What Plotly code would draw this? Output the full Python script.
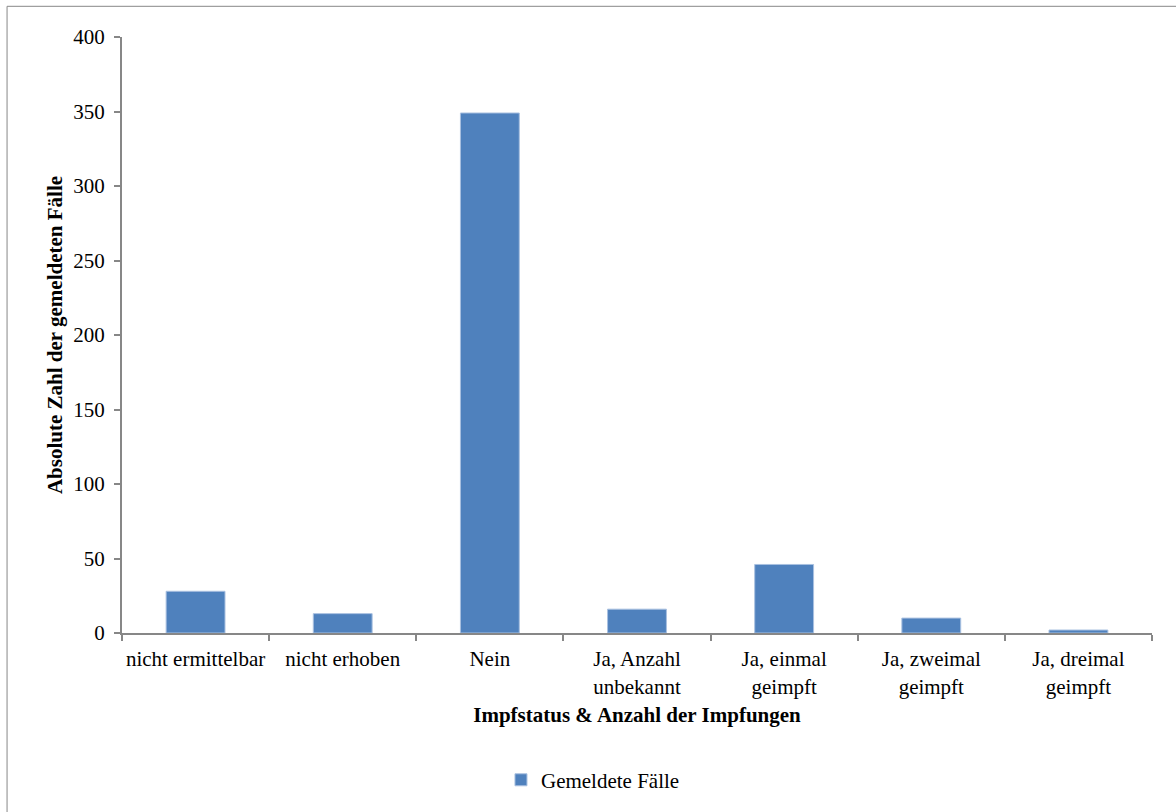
import plotly.graph_objects as go

categories = ["nicht ermittelbar", "nicht erhoben", "Nein", "Ja, Anzahl<br>unbekannt",
              "Ja, einmal<br>geimpft", "Ja, zweimal<br>geimpft", "Ja, dreimal<br>geimpft"]
values = [28, 13, 349, 16, 46, 10, 2]
series_name = "Gemeldete Fälle"
y_ticks = [0, 50, 100, 150, 200, 250, 300, 350, 400]

FONT = "Liberation Serif, Times New Roman, serif"
AXIS = "#878787"

fig = go.Figure()
fig.add_trace(go.Bar(x=categories, y=values, name=series_name,
                     marker=dict(color="#4f81bd", line=dict(color="#a9c0e0", width=1))))

fig.update_layout(
    width=1176, height=812,
    margin=dict(l=122, r=24, t=37, b=179, autoexpand=False),
    paper_bgcolor="white", plot_bgcolor="white",
    font=dict(family=FONT, size=21, color="black"),
    bargap=0.6,
    showlegend=True,
    legend=dict(orientation="h", x=0.426, xanchor="left", xref="container",
                y=0.014, yanchor="bottom", yref="container",
                font=dict(family=FONT, size=21), itemwidth=30),
    shapes=[dict(type="rect", xref="paper", yref="paper", x0=-0.1116, x1=1.1, y0=-0.35, y1=1.0515,
                 line=dict(color="#888888", width=1), layer="below")],
)
fig.update_xaxes(
    showline=True, linecolor=AXIS, linewidth=2, automargin=False, tickangle=0,
    ticks="outside", tickson="boundaries", ticklen=6, tickcolor=AXIS, tickwidth=2,
    tickfont=dict(family=FONT, size=21), ticklabelstandoff=6,
    title=dict(text="<b>Impfstatus & Anzahl der Impfungen</b>", font=dict(family=FONT, size=21), standoff=10),
    showgrid=False,
)
fig.update_yaxes(
    range=[0, 400], tickvals=y_ticks, automargin=False,
    showline=True, linecolor=AXIS, linewidth=2,
    ticks="outside", ticklen=6, tickcolor=AXIS, tickwidth=2,
    tickfont=dict(family=FONT, size=21), ticklabelstandoff=5,
    title=dict(text="<b>Absolute Zahl der gemeldeten Fälle</b>", font=dict(family=FONT, size=21), standoff=5),
    showgrid=False, zeroline=False,
)

fig.write_html("out.html")
